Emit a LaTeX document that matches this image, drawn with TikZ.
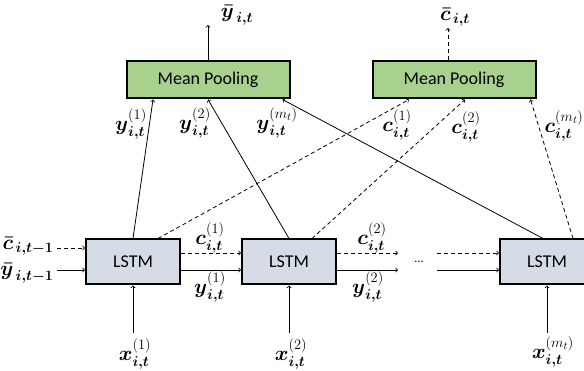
\documentclass[tikz,border=0pt]{standalone}
\usepackage{amsmath}
\usepackage{fontspec}
\newfontfamily\boxfont{Carlito}
\DeclareMathSizes{20}{20}{15}{11}
\definecolor{poolgreen}{HTML}{A9D18E}
\definecolor{lstmgray}{HTML}{D6DCE5}
\tikzset{
  poolbox/.style={draw, line width=2pt, fill=poolgreen, minimum width=163pt, minimum height=37pt,
    font=\boxfont\fontsize{18}{20}\selectfont},
  lstmbox/.style={draw, line width=2pt, fill=lstmgray, minimum width=94pt, minimum height=45pt,
    font=\boxfont\fontsize{18}{20}\selectfont},
  lbl/.style={inner sep=0pt, font=\fontsize{20}{22}\selectfont},
  cellline/.style={dash pattern=on 4pt off 3pt},
}
\newcommand{\bvec}[3]{\boldsymbol{#1}^{(#2)}_{\boldsymbol{#3}}}
\begin{document}
\begin{tikzpicture}[x=1pt, y=-1pt, line width=0.8pt]
        \useasboundingbox (0,0) rectangle (584,371);
        \clip (0,0) rectangle (584,371);

        % mean pooling
        \node[poolbox] (mp1) at (208,80) {Mean Pooling};
        \node[poolbox] (mp2) at (454,80) {Mean Pooling};

        % lstm chain
        \node[lstmbox] (lstm1) at (133,262) {LSTM};
        \node[lstmbox] (lstm2) at (289,262) {LSTM};
        \node[lstmbox] (lstm3) at (547,262) {LSTM};

        % pooled outputs
        \coordinate (yout) at (208,25);
        \coordinate (cout) at (448,28);
        \draw [->] (mp1.north) -- (yout);
        \draw [->, cellline] ([xshift=-6pt]mp2.north) -- (cout);
        \node[lbl] (ybar) at (237,15) {$\boldsymbol{\bar{y}}_{\,\boldsymbol{i,t}}$};
        \node[lbl] (cbar) at (455,17) {$\boldsymbol{\bar{c}}_{\,\boldsymbol{i,t}}$};

        % previous state
        \coordinate (cin) at (57,248);
        \coordinate (yin) at (57,270);
        \draw [->, cellline] (cin) -- (cin -| lstm1.west);
        \draw [->] (yin) -- (yin -| lstm1.west);
        \node[lbl, anchor=east] (cinlbl) at (54,246) {$\boldsymbol{\bar{c}}_{\,\boldsymbol{i,t-1}}$};
        \node[lbl, anchor=east] (yinlbl) at (54,273) {$\boldsymbol{\bar{y}}_{\,\boldsymbol{i,t-1}}$};

        % first to second
        \draw [->, cellline] ([yshift=9pt]lstm1.east) -- ([yshift=9pt]lstm2.west);
        \draw [->] ([yshift=-8pt]lstm1.east) -- ([yshift=-8pt]lstm2.west);
        \node[lbl] (c1h) at (210,238) {$\bvec{c}{1}{i,t}$};
        \node[lbl] (y1h) at (210,287) {$\bvec{y}{1}{i,t}$};

        % second to dots to last
        \coordinate (d1) at (398,253);
        \coordinate (s1) at (398,270);
        \coordinate (d2) at (437,253);
        \coordinate (s2) at (437,270);
        \draw [->, cellline] ([yshift=9pt]lstm2.east) -- (d1);
        \draw [->] ([yshift=-8pt]lstm2.east) -- (s1);
        \node (dots) at (419,262) {\boxfont\fontsize{12}{14}\selectfont ...};
        \draw [->, cellline] (d2) -- (d2 -| lstm3.west);
        \draw [->] (s2) -- (s2 -| lstm3.west);
        \node[lbl] (c2h) at (372,238) {$\bvec{c}{2}{i,t}$};
        \node[lbl] (y2h) at (368,287) {$\bvec{y}{2}{i,t}$};

        % inputs
        \coordinate (x1) at (133,333);
        \coordinate (x2) at (289,333);
        \coordinate (x3) at (547,333);
        \draw [->] (x1) -- (lstm1.south);
        \draw [->] (x2) -- (lstm2.south);
        \draw [->] (x3) -- (lstm3.south);
        \node[lbl] (x1lbl) at (135,354) {$\bvec{x}{1}{i,t}$};
        \node[lbl] (x2lbl) at (291,354) {$\bvec{x}{2}{i,t}$};
        \node[lbl] (x3lbl) at (553,352) {$\bvec{x}{m_t}{i,t}$};

        % outputs into mean pooling
        \draw [->] (lstm1.north) -- ([xshift=-55pt]mp1.south);
        \draw [->] (lstm2.north) -- (mp1.south);
        \draw [->] ([xshift=-4pt]lstm3.north) -- ([xshift=-8pt]mp1.south east);
        \node[lbl] (y1v) at (131,124) {$\bvec{y}{1}{i,t}$};
        \node[lbl] (y2v) at (195,123) {$\bvec{y}{2}{i,t}$};
        \node[lbl] (y3v) at (277,123) {$\bvec{y}{m_t}{i,t}$};

        % cell states into mean pooling
        \draw [->, cellline] ([xshift=25pt]lstm1.north) -- ([xshift=-45pt]mp2.south);
        \draw [->, cellline] ([xshift=23pt]lstm2.north) -- ([xshift=11pt]mp2.south);
        \draw [->, cellline] ([xshift=26pt]lstm3.north) -- ([xshift=-6pt]mp2.south east);
        \node[lbl] (c1v) at (397,125) {$\bvec{c}{1}{i,t}$};
        \node[lbl] (c2v) at (466,127) {$\bvec{c}{2}{i,t}$};
        \node[lbl] (c3v) at (564,126) {$\bvec{c}{m_t}{i,t}$};
\end{tikzpicture}
\end{document}
